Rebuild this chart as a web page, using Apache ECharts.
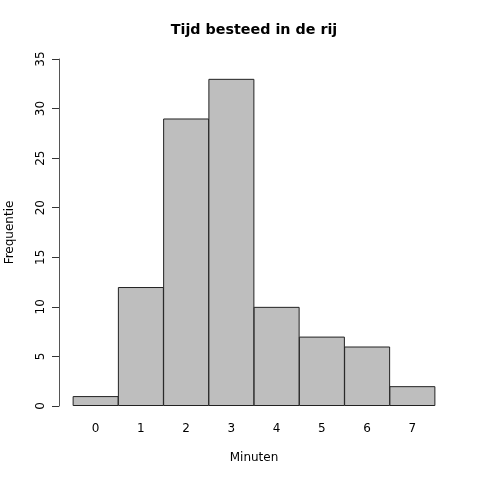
<!DOCTYPE html>
<html>
<head>
<meta charset="utf-8">
<script src="https://cdn.jsdelivr.net/npm/echarts@6/dist/echarts.min.js"></script>
<style>
  html, body { margin: 0; padding: 0; background: #fff; }
  #chart { width: 480px; height: 480px; }
</style>
</head>
<body>
<div id="chart"></div>
<script>
// histogram: minutes waited in the queue
const minuten = ['0', '1', '2', '3', '4', '5', '6', '7'];
const frequentie = [1, 12, 29, 33, 10, 7, 6, 2];
const yTicks = [0, 5, 10, 15, 20, 25, 30, 35];

const chart = echarts.init(document.getElementById('chart'), null, { renderer: 'canvas' });
const font = 'DejaVu Sans';

const option = {
  animation: false,
  backgroundColor: '#fff',
  textStyle: { fontFamily: font },
  graphic: [{
    type: 'text',
    x: 254,
    y: 30,
    style: {
      text: 'Tijd besteed in de rij',
      font: 'bold 14.3px "DejaVu Sans"',
      fill: '#000',
      align: 'center',
      verticalAlign: 'middle'
    }
  }],
  grid: { left: 73, right: 45, top: 59, bottom: 74, outerBoundsMode: 'none', containLabel: false },
  xAxis: {
    type: 'category',
    data: minuten,
    boundaryGap: true,
    axisLine: { show: false },
    axisTick: { show: false },
    axisLabel: { color: '#000', fontSize: 12, margin: 17, fontFamily: font },
    name: 'Minuten',
    nameLocation: 'middle',
    nameGap: 46,
    nameTextStyle: { color: '#000', fontSize: 12, fontFamily: font }
  },
  yAxis: {
    type: 'value',
    min: 0,
    max: yTicks[yTicks.length - 1],
    interval: 5,
    offset: 14,
    splitLine: { show: false },
    axisLine: { show: true, lineStyle: { color: '#555', width: 1 } },
    axisTick: { show: true, length: 7, lineStyle: { color: '#333' } },
    axisLabel: { color: '#000', fontSize: 12, rotate: 90, margin: 12, fontFamily: font },
    name: 'Frequentie',
    nameLocation: 'middle',
    nameRotate: 90,
    nameGap: 43,
    nameTextStyle: { color: '#000', fontSize: 12, fontFamily: font }
  },
  series: [{
    type: 'bar',
    data: frequentie,
    barWidth: 46,
    itemStyle: { color: '#bebebe', borderColor: '#222', borderWidth: 1 }
  }]
};
chart.setOption(option);
</script>
</body>
</html>
